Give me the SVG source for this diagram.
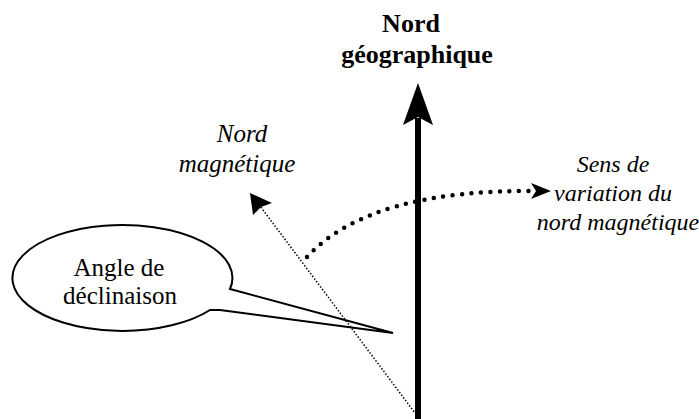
<svg xmlns="http://www.w3.org/2000/svg" width="699" height="419" viewBox="0 0 699 419">
<style>
.head{fill:#000}
.thin{fill:none;stroke:#000;stroke-width:1.5;stroke-dasharray:1.5 1.8}
.dots{fill:none;stroke:#000;stroke-width:4.5;stroke-linecap:round;stroke-dasharray:0 9.5}
</style>
<rect width="699" height="419" fill="#fff"/>
<g font-family="Liberation Serif" fill="#000" text-anchor="middle">
<g id="nord-geographique" font-weight="bold" font-size="26">
<text x="411" y="32">Nord</text>
<text x="417" y="63">géographique</text>
</g>
<g id="nord-magnetique" font-style="italic" font-size="25">
<text x="242" y="142">Nord</text>
<text x="237" y="172">magnétique</text>
</g>
<g id="sens-variation" font-style="italic" font-size="24">
<text x="613" y="172">Sens de</text>
<text x="613" y="201">variation du</text>
<text x="618" y="230">nord magnétique</text>
</g>
<g id="angle-declinaison" font-size="25">
<path d="M230,289 L393,333 L220,310 L210,310 A110,53 0 1 1 230,289 Z" fill="#fff" stroke="#000" stroke-width="2" stroke-linejoin="miter"/>
<text x="119" y="276">Angle de</text>
<text x="120" y="304">déclinaison</text>
</g>
</g>
<g id="connectors">
<line x1="418" y1="419" x2="418" y2="118" stroke="#000" stroke-width="6"/>
<polygon class="head" points="418,83 433,125 418,117 403,125"/>
<line class="thin" x1="418" y1="417" x2="260" y2="206"/>
<polygon class="head" points="250,193 272,203 261,207 253,215"/>
<path class="dots" d="M307,257 C350,210 430,190 535,191"/>
<polygon class="head" points="551,191 531,183 536,191 531,199"/>
</g>
</svg>
